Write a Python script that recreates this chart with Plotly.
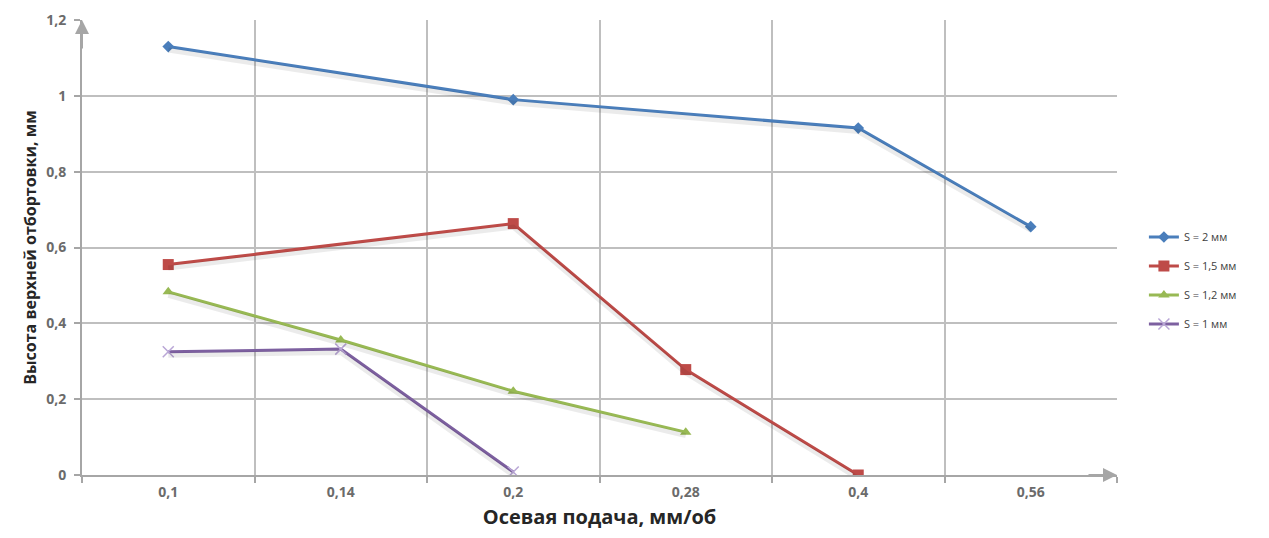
import plotly.graph_objects as go

# Axial feed categories (mm/rev) and flange height per sheet thickness
feed_labels = ["0,1", "0,14", "0,2", "0,28", "0,4", "0,56"]

s2_feed = ["0,1", "0,2", "0,4", "0,56"]
s2_height = [1.13, 0.99, 0.915, 0.655]
s15_feed = ["0,1", "0,2", "0,28", "0,4"]
s15_height = [0.555, 0.663, 0.278, 0.0]
s12_feed = ["0,1", "0,14", "0,2", "0,28"]
s12_height = [0.483, 0.356, 0.221, 0.113]
s1_feed = ["0,1", "0,14", "0,2"]
s1_height = [0.325, 0.332, 0.008]

y_ticks = [0, 0.2, 0.4, 0.6, 0.8, 1.0, 1.2]
y_tick_text = ["0", "0,2", "0,4", "0,6", "0,8", "1", "1,2"]

series = [
    ("S = 2 мм", s2_feed, s2_height, "#4A7EBB", "diamond", 9),
    ("S = 1,5 мм", s15_feed, s15_height, "#BE4B48", "square", 11),
    ("S = 1,2 мм", s12_feed, s12_height, "#98B954", "triangle-up", 10),
    ("S = 1 мм", s1_feed, s1_height, "#7D60A0", "x-thin", 11),
]

fig = go.Figure()
for i, (name, feeds, vals, color, symbol, msize) in enumerate(series):
    xs = [feed_labels.index(f) for f in feeds]
    marker = dict(symbol=symbol, size=msize, color=color)
    if symbol == "x-thin":
        marker["line"] = dict(color="#B9A6D6", width=1.5)
    # soft shadow under each line
    fig.add_trace(go.Scatter(
        x=xs, y=vals, mode="lines", showlegend=False, hoverinfo="skip",
        line=dict(color="rgba(0,0,0,0.08)", width=5), yaxis="y2",
    ))
    fig.add_trace(go.Scatter(
        x=xs, y=vals, name=name, mode="lines+markers",
        line=dict(color=color, width=3), marker=marker,
        legendgroup=f"g{i}",
    ))

grid_color = "#BFBFBF"
axis_color = "#A6A6A6"
tick_font = dict(family="Open Sans", size=14, color="#6B6B6B", weight="bold")

fig.update_layout(
    width=1269, height=538,
    margin=dict(l=82, r=152, t=20, b=63),
    paper_bgcolor="white", plot_bgcolor="white",
    showlegend=True,
    legend=dict(
        x=1.026, y=0.555, xanchor="left", yanchor="top",
        font=dict(family="Open Sans", size=11, color="#404040"),
        tracegroupgap=10, bgcolor="rgba(0,0,0,0)",
    ),
    xaxis=dict(
        range=[-0.5, 5.5], tickvals=list(range(len(feed_labels))), ticktext=feed_labels,
        showgrid=False, ticks="", tickfont=tick_font, ticklabelstandoff=3,
        showline=True, linecolor=axis_color, linewidth=2,
        zeroline=False, automargin=False,
        minor=dict(tickmode="linear", tick0=0.5, dtick=1, showgrid=True,
                   gridcolor=grid_color, gridwidth=1.5,
                   ticks="outside", ticklen=6, tickcolor=axis_color, tickwidth=1.5),
        title=dict(text="Осевая подача, мм/об",
                   font=dict(family="Open Sans", size=20, color="#262626", weight="bold"),
                   standoff=10),
    ),
    yaxis=dict(
        range=[0, 1.2], tickvals=y_ticks, ticktext=y_tick_text,
        showgrid=True, gridcolor=grid_color, gridwidth=1.5,
        ticks="outside", ticklen=6, tickcolor=axis_color, tickwidth=1.5,
        tickfont=tick_font, ticklabelstandoff=5,
        showline=True, linecolor=axis_color, linewidth=2, zeroline=False,
        automargin=False,
        title=dict(text="Высота верхней отбортовки, мм",
                   font=dict(family="Open Sans", size=16, color="#262626", weight="bold"),
                   standoff=6),
    ),
    # shadow layer, nudged a few pixels below the main lines
    yaxis2=dict(range=[0.009, 1.209], overlaying="y", visible=False),
)

# Arrowheads at the ends of both axes
fig.add_annotation(xref="paper", yref="paper", x=0, y=1.0, ax=0, ay=30,
                   showarrow=True, arrowhead=2, arrowsize=1.4, arrowwidth=2,
                   arrowcolor=axis_color, text="")
fig.add_annotation(xref="paper", yref="paper", x=1.0, y=0, ax=-30, ay=0,
                   showarrow=True, arrowhead=2, arrowsize=1.4, arrowwidth=2,
                   arrowcolor=axis_color, text="")

fig.write_html("out.html")
